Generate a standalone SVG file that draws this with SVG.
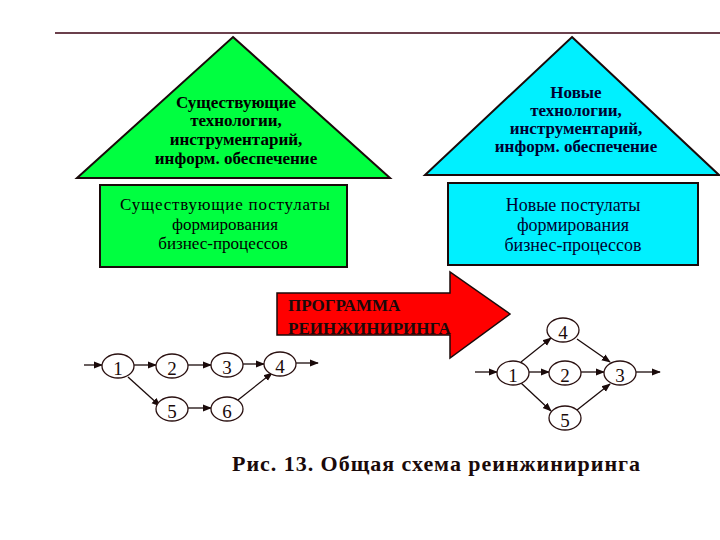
<svg xmlns="http://www.w3.org/2000/svg" width="720" height="540" viewBox="0 0 720 540">
<defs>
<marker id="ah" viewBox="0 0 10 10" refX="9" refY="5" markerWidth="9" markerHeight="9" markerUnits="userSpaceOnUse" orient="auto">
<path d="M0,1 L10,5 L0,9 Z" fill="#1a0a0a"/>
</marker>
<style>
.tri{stroke:#1a0a0a;stroke-width:2}
.box{stroke:#1a0a0a;stroke-width:2}
.t{font-family:"Liberation Serif","Times New Roman",serif;font-weight:bold;text-anchor:middle;font-size:17px}
.b{font-family:"Liberation Serif","Times New Roman",serif;text-anchor:middle;font-size:18px}
.g{font-family:"Liberation Serif","Times New Roman",serif;text-anchor:middle;font-size:17px}
.n{fill:#fff;stroke:#2a1010;stroke-width:1.3}
.nl{font-family:"Liberation Serif","Times New Roman",serif;font-size:19px;text-anchor:middle;fill:#1a0a0a}
.e{stroke:#1a0a0a;stroke-width:1.3;fill:none;marker-end:url(#ah)}
.a{font-family:"Liberation Serif","Times New Roman",serif;font-size:17px;font-weight:bold;fill:#1a0a0a}
</style>
</defs>
<rect width="720" height="540" fill="#fff"/>
<line x1="55" y1="33" x2="720" y2="33" stroke="#3a0010" stroke-width="1.5"/>

<g id="green-triangle">
<polygon class="tri" points="233,37 390,178 77,178" fill="#00ff40"/>
<text class="t" x="236" y="108">Существующие</text>
<text class="t" x="236" y="126">технологии,</text>
<text class="t" x="236" y="145">инструментарий,</text>
<text class="t" x="236" y="164">информ. обеспечение</text>
</g>

<g id="cyan-triangle">
<polygon class="tri" points="572,37 719,175 425,175" fill="#00f0ff"/>
<g fill="#000030">
<text class="t" x="576" y="98">Новые</text>
<text class="t" x="576" y="116">технологии,</text>
<text class="t" x="576" y="134">инструментарий,</text>
<text class="t" x="576" y="152">информ. обеспечение</text>
</g>
</g>

<g id="green-box">
<rect class="box" x="100" y="185" width="247" height="82" fill="#00ff40"/>
<text class="g" x="225" y="210" textLength="210" lengthAdjust="spacing">Существующие постулаты</text>
<text class="g" x="225" y="229.5">формирования</text>
<text class="g" x="223" y="249">бизнес-процессов</text>
</g>

<g id="cyan-box">
<rect class="box" x="448" y="183" width="250" height="82" fill="#00f0ff"/>
<g fill="#000030">
<text class="b" x="573" y="211">Новые постулаты</text>
<text class="b" x="573" y="231">формирования</text>
<text class="b" x="573" y="251">бизнес-процессов</text>
</g>
</g>

<g id="program-arrow">
<polygon points="277,293 450,293 450,272 510,314 450,358 450,335 277,335" fill="#ff0000" stroke="#1a0a0a" stroke-width="1.5"/>
<text class="a" x="288" y="311">ПРОГРАММА</text>
<text class="a" x="288" y="334">РЕИНЖИНИРИНГА</text>
</g>

<g id="connectors">
<line class="e" x1="84" y1="365" x2="102" y2="365"/>
<line class="e" x1="134" y1="365" x2="156" y2="365"/>
<line class="e" x1="188" y1="365" x2="211" y2="365"/>
<line class="e" x1="243" y1="364" x2="264" y2="364"/>
<line class="e" x1="296" y1="363" x2="318" y2="363"/>
<line class="e" x1="128" y1="377" x2="160" y2="406"/>
<line class="e" x1="188" y1="408" x2="211" y2="408"/>
<line class="e" x1="238" y1="400" x2="272" y2="373"/>
<line class="e" x1="475" y1="372" x2="497" y2="372"/>
<line class="e" x1="529" y1="372" x2="549" y2="372"/>
<line class="e" x1="581" y1="372" x2="604" y2="372"/>
<line class="e" x1="636" y1="372" x2="660" y2="372"/>
<line class="e" x1="521" y1="362" x2="551" y2="338"/>
<line class="e" x1="577" y1="339" x2="610" y2="362"/>
<line class="e" x1="521" y1="383" x2="551" y2="411"/>
<line class="e" x1="577" y1="410" x2="610" y2="384"/>
</g>

<g id="L1"><ellipse class="n" cx="118" cy="366" rx="16" ry="12"/><text class="nl" x="118" y="375">1</text></g>
<g id="L2"><ellipse class="n" cx="172" cy="366" rx="16" ry="12"/><text class="nl" x="172" y="375">2</text></g>
<g id="L3"><ellipse class="n" cx="227" cy="365" rx="16" ry="12"/><text class="nl" x="227" y="374">3</text></g>
<g id="L4"><ellipse class="n" cx="280" cy="364" rx="16" ry="12"/><text class="nl" x="280" y="373">4</text></g>
<g id="L5"><ellipse class="n" cx="172" cy="409" rx="16" ry="12"/><text class="nl" x="172" y="418">5</text></g>
<g id="L6"><ellipse class="n" cx="227" cy="409" rx="16" ry="12"/><text class="nl" x="227" y="418">6</text></g>

<g id="R1"><ellipse class="n" cx="513" cy="373" rx="16" ry="12"/><text class="nl" x="513" y="382">1</text></g>
<g id="R2"><ellipse class="n" cx="565" cy="373" rx="16" ry="12"/><text class="nl" x="565" y="382">2</text></g>
<g id="R3"><ellipse class="n" cx="620" cy="373" rx="16" ry="12"/><text class="nl" x="620" y="382">3</text></g>
<g id="R4"><ellipse class="n" cx="563" cy="330" rx="16" ry="12"/><text class="nl" x="563" y="339">4</text></g>
<g id="R5"><ellipse class="n" cx="565" cy="418" rx="16" ry="12"/><text class="nl" x="565" y="427">5</text></g>

<text x="232" y="471" font-family="'Liberation Serif','Times New Roman',serif" font-size="22" font-weight="bold" fill="#1a0a0a" textLength="408" lengthAdjust="spacing">Рис. 13. Общая схема реинжиниринга</text>
</svg>
